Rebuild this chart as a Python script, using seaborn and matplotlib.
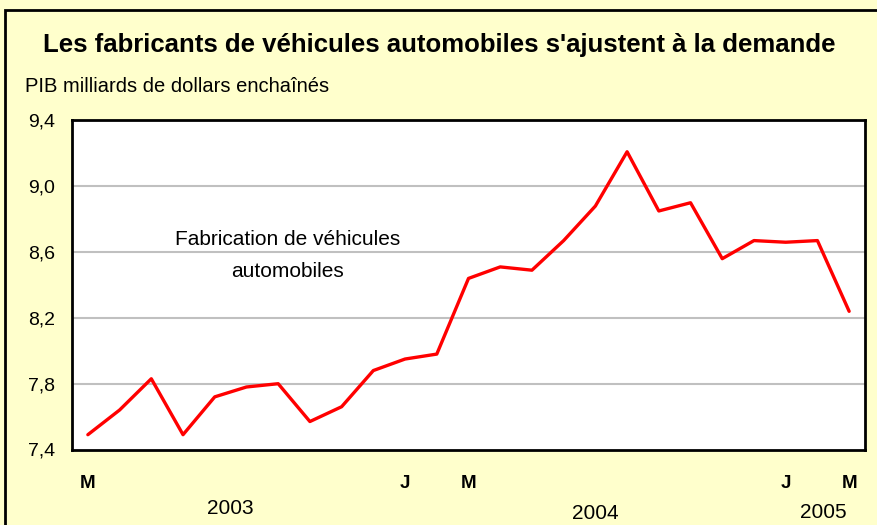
import matplotlib
matplotlib.use("Agg")
import matplotlib.pyplot as plt
import matplotlib.transforms as mtransforms
import seaborn as sns
import pandas as pd
import numpy as np

months = ["2003-03", "2003-04", "2003-05", "2003-06", "2003-07", "2003-08", "2003-09",
          "2003-10", "2003-11", "2003-12", "2004-01", "2004-02", "2004-03", "2004-04",
          "2004-05", "2004-06", "2004-07", "2004-08", "2004-09", "2004-10", "2004-11",
          "2004-12", "2005-01", "2005-02", "2005-03"]
values = [7.49, 7.64, 7.83, 7.49, 7.72, 7.78, 7.80, 7.57, 7.66, 7.88, 7.95, 7.98,
          8.44, 8.51, 8.49, 8.67, 8.88, 9.21, 8.85, 8.90, 8.56, 8.67, 8.66, 8.67, 8.24]
tick_labels = {0: "M", 10: "J", 12: "M", 22: "J", 24: "M"}
year_labels = [("2003", 4.5, -0.18), ("2004", 16.0, -0.195), ("2005", 23.2, -0.19)]
y_ticks = [7.4, 7.8, 8.2, 8.6, 9.0, 9.4]

sns.set_theme(style="white")
plt.rcParams['font.family'] = ['Liberation Sans', 'DejaVu Sans']
plt.rcParams['text.color'] = 'black'
plt.rcParams['xtick.color'] = 'black'
plt.rcParams['ytick.color'] = 'black'

bg = "#FFFFCC"
fig = plt.figure(figsize=(8.78, 5.25), dpi=100)
fig.patch.set_facecolor(bg)
ax = fig.add_axes([72/878, 1 - 449.5/525, (865-72)/878, (449.5-120.5)/525])
ax.set_facecolor("white")

df = pd.DataFrame({"idx": np.arange(len(months)), "val": values})
sns.lineplot(data=df, x="idx", y="val", ax=ax, color="#FF0000", linewidth=2.4)

ax.set_xlim(-0.5, len(months) - 0.5)
ax.set_ylim(7.4, 9.4)
ax.set_yticks(y_ticks)
ax.set_yticklabels([f"{v:.1f}".replace(".", ",") for v in y_ticks], fontsize=14, color="black")
ax.yaxis.set_tick_params(length=0, pad=12)
for g in y_ticks[1:-1]:
    ax.axhline(g, color="#C0C0C0", linewidth=1.5, zorder=0)

ax.set_xticks(list(tick_labels.keys()))
ax.set_xticklabels(list(tick_labels.values()), fontsize=13.5, fontweight="bold", color="black")
ax.xaxis.set_tick_params(which="major", length=0, pad=18)
ax.set_xticks(np.arange(0.5, len(months) - 1, 1.0), minor=True)
ax.xaxis.set_tick_params(which="minor", direction="in", length=5, width=1.3, color="black")
ax.set_xlabel("")
ax.set_ylabel("")

for s in ax.spines.values():
    s.set_color("black")
    s.set_linewidth(2)
    s.set_visible(True)

trans = mtransforms.blended_transform_factory(ax.transData, ax.transAxes)
for lab, xpos, ypos in year_labels:
    ax.text(xpos, ypos, lab, transform=trans, ha="center", va="center", fontsize=15,
            color="black")

ax.text(6.3, 0.59, "Fabrication de véhicules\nautomobiles", transform=trans,
        ha="center", va="center", fontsize=15, linespacing=1.85, color="black")

fig.text(0.5, 1 - 45/525, "Les fabricants de véhicules automobiles s'ajustent à la demande",
         ha="center", va="center", fontsize=18.5, fontweight="bold", color="black")
fig.text(25/878, 1 - 87/525, "PIB milliards de dollars enchaînés", ha="left", va="center",
         fontsize=14.5, color="black")

border = plt.Rectangle((5/878, -0.1), 1.2, 1 - 10/525 + 0.1, transform=fig.transFigure,
                       fill=False, edgecolor="black", linewidth=2)
fig.patches.append(border)

fig.savefig("out.png", dpi=100, facecolor=bg)
